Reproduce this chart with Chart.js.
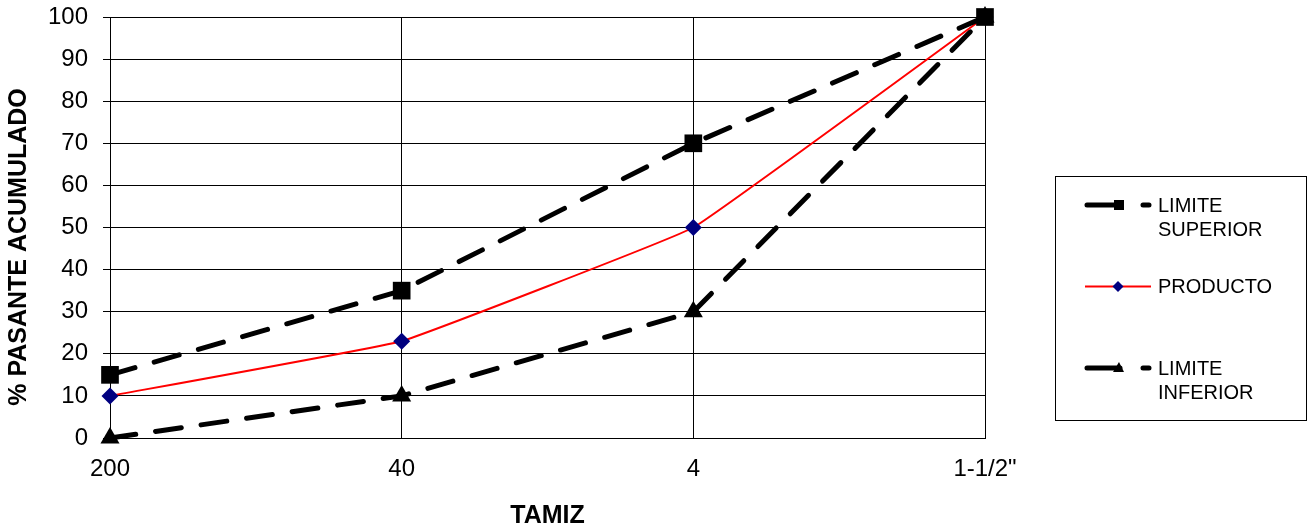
<!DOCTYPE html>
<html>
<head>
<meta charset="utf-8">
<script src="https://cdn.jsdelivr.net/npm/chart.js@4"></script>
<style>
  html, body { margin: 0; padding: 0; background: #fff; }
  #wrap { width: 1308px; height: 528px; position: relative; }
</style>
</head>
<body>
<div id="wrap"><canvas id="chart" width="1308" height="528"></canvas></div>
<script>
// data
const tamices = ['200', '40', '4', '1-1/2"'];
const limiteSuperior = [15, 35, 70, 100];
const producto = [10, 23, 50, 100];
const limiteInferior = [0, 10, 30, 100];
const yTicks = [0, 10, 20, 30, 40, 50, 60, 70, 80, 90, 100];

const FONT = '"Liberation Sans", Arial, sans-serif';

// axis titles + legend box drawn on the canvas, like the Excel chart
const extras = {
  id: 'extras',
  afterDraw(chart) {
    const ctx = chart.ctx;
    const area = chart.chartArea;
    ctx.save();
    ctx.fillStyle = '#000';
    ctx.textAlign = 'center';
    ctx.textBaseline = 'middle';
    ctx.font = 'bold 25px ' + FONT;
    ctx.fillText('TAMIZ', (area.left + area.right) / 2, 516);
    ctx.save();
    ctx.translate(19, 247);
    ctx.rotate(-Math.PI / 2);
    ctx.fillText('% PASANTE ACUMULADO', 0, 0);
    ctx.restore();

    ctx.textAlign = 'left';
    ctx.strokeStyle = '#000';
    ctx.lineWidth = 1;
    ctx.strokeRect(1055.5, 176.5, 251, 244);

    ctx.font = '20px ' + FONT;

    const dashedEntry = (y, marker, lines) => {
      ctx.strokeStyle = '#000';
      ctx.lineWidth = 5;
      ctx.lineCap = 'round';
      ctx.beginPath();
      ctx.moveTo(1087, y); ctx.lineTo(1120, y);
      ctx.moveTo(1143, y); ctx.lineTo(1149, y);
      ctx.stroke();
      ctx.fillStyle = '#000';
      if (marker === 'rect') {
        ctx.fillRect(1114, y - 5, 10, 10);
      } else {
        ctx.beginPath();
        ctx.moveTo(1119, y - 6);
        ctx.lineTo(1124, y + 4);
        ctx.lineTo(1113, y + 4);
        ctx.closePath();
        ctx.fill();
      }
      lines.forEach((t, i) => ctx.fillText(t, 1158, y + 1 + i * 24));
    };

    dashedEntry(205, 'rect', ['LIMITE', 'SUPERIOR']);

    // producto
    ctx.strokeStyle = '#ff0000';
    ctx.lineWidth = 2;
    ctx.lineCap = 'butt';
    ctx.beginPath();
    ctx.moveTo(1085, 286.5); ctx.lineTo(1151, 286.5);
    ctx.stroke();
    ctx.fillStyle = '#000080';
    ctx.beginPath();
    ctx.moveTo(1118, 281); ctx.lineTo(1123.5, 286.5); ctx.lineTo(1118, 292); ctx.lineTo(1112.5, 286.5);
    ctx.closePath();
    ctx.fill();
    ctx.fillStyle = '#000';
    ctx.fillText('PRODUCTO', 1158, 287);

    dashedEntry(368, 'triangle', ['LIMITE', 'INFERIOR']);
    ctx.restore();
  }
};

new Chart(document.getElementById('chart').getContext('2d'), {
  type: 'line',
  data: {
    labels: tamices,
    datasets: [
      {
        label: 'LIMITE SUPERIOR',
        data: limiteSuperior,
        borderColor: '#000',
        backgroundColor: '#000',
        borderWidth: 5,
        borderDash: [26, 20],
        borderCapStyle: 'round',
        pointStyle: 'rect',
        pointRadius: 12.5,
        pointBorderWidth: 0,
        tension: 0,
        clip: false,
      },
      {
        label: 'PRODUCTO',
        data: producto,
        borderColor: '#ff0000',
        backgroundColor: '#000080',
        borderWidth: 2,
        pointStyle: 'rectRot',
        pointRadius: 8.5,
        pointBorderWidth: 0,
        tension: 0.07,
        clip: false,
      },
      {
        label: 'LIMITE INFERIOR',
        data: limiteInferior,
        borderColor: '#000',
        backgroundColor: '#000',
        borderWidth: 5,
        borderDash: [26, 20],
        borderCapStyle: 'round',
        pointStyle: 'triangle',
        pointRadius: 11,
        pointBorderWidth: 0,
        tension: 0,
        clip: false,
      },
    ],
  },
  options: {
    responsive: false,
    animation: false,
    layout: { padding: { left: 0, right: 323, top: 17, bottom: 0 } },
    plugins: {
      legend: { display: false },
      tooltip: { enabled: false },
    },
    scales: {
      x: {
        type: 'category',
        offset: false,
        grid: { color: '#000', lineWidth: 1, drawTicks: false },
        border: { color: '#000', width: 1 },
        ticks: { color: '#000', font: { family: FONT, size: 24 }, padding: 17, maxRotation: 0 },
        afterFit(scale) { scale.height = 90; scale.paddingLeft = 0; scale.paddingRight = 0; },
      },
      y: {
        min: 0,
        max: 100,
        afterBuildTicks(scale) { scale.ticks = yTicks.map(v => ({ value: v })); },
        grid: { color: '#000', lineWidth: 1, tickLength: 7 },
        border: { color: '#000', width: 1 },
        ticks: { color: '#000', font: { family: FONT, size: 24 }, padding: 15 },
        afterFit(scale) { scale.width = 110; scale.paddingTop = 0; scale.paddingBottom = 0; },
      },
    },
  },
  plugins: [extras],
});
</script>
</body>
</html>
